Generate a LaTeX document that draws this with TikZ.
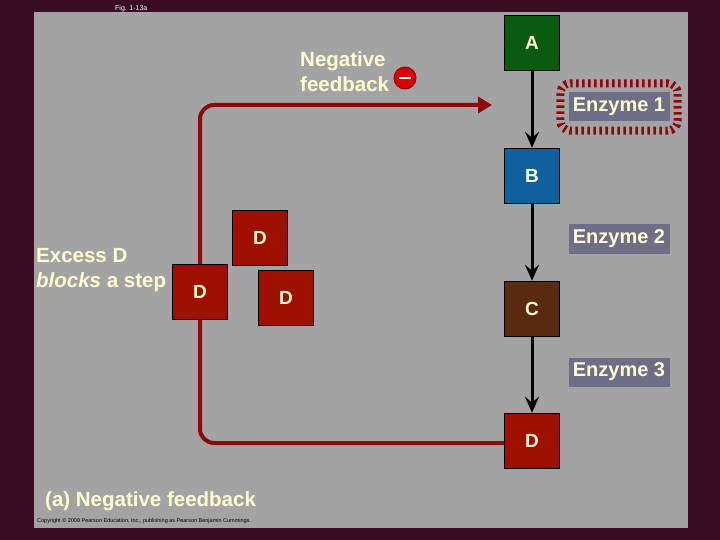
\documentclass[tikz,border=0pt]{standalone}
\usepackage{fontspec}
\setmainfont{Liberation Sans}
\usetikzlibrary{arrows.meta}
\definecolor{bgp}{HTML}{3A0D22}
\definecolor{panel}{HTML}{A3A3A3}
\definecolor{cream}{HTML}{FFFBD0}
\definecolor{fb}{HTML}{8B0A0A}
\definecolor{enz}{HTML}{6E6E86}
\definecolor{cA}{HTML}{0A5A10}
\definecolor{cB}{HTML}{1060A0}
\definecolor{cC}{HTML}{5A2A10}
\definecolor{cD}{HTML}{A01000}
\begin{document}
\begin{tikzpicture}[x=1pt,y=-1pt,
  mol/.style={draw=black,line width=1.5pt,minimum width=55pt,minimum height=55pt,inner sep=0pt,text=cream,font=\bfseries\fontsize{19}{19}\selectfont},
  enzb/.style={fill=enz,text=cream,minimum width=101pt,minimum height=29pt,inner sep=0pt,font=\bfseries\fontsize{20}{20}\selectfont},
  lbl/.style={text=cream,font=\bfseries\fontsize{20.5}{25}\selectfont,inner sep=0pt},
  arr/.style={-{Stealth[length=16pt,width=14pt,inset=6pt]},line width=3pt}]
\useasboundingbox (0,0) rectangle (720,540);
\fill[bgp] (0,0) rectangle (720,540);
\fill[panel] (34,12) rectangle (688,528);
\node[anchor=west,text=white,font=\fontsize{7}{7}\selectfont,inner sep=0pt] (fig) at (115,9) {Fig. 1-13a};
\node[mol,fill=cA] (A) at (532,43) {A};
\node[mol,fill=cB] (B) at (532,176) {B};
\node[mol,fill=cC] (C) at (532,309) {C};
\node[mol,fill=cD] (D) at (532,441) {D};
\node[mol,fill=cD] (D1) at (260,238) {D};
\node[mol,fill=cD] (D3) at (286,298) {D};
\node[enzb] (E1) at (619,107) {Enzyme 1};
\draw[fb,line width=8pt,dash pattern=on 2.5pt off 3.5pt,rounded corners=10pt] ([xshift=-8pt,yshift=9pt]E1.north west) rectangle ([xshift=8pt,yshift=-9pt]E1.south east);
\node[enzb] (E2) at (619,239) {Enzyme 2};
\node[enzb] (E3) at (619,372) {Enzyme 3};
\draw[arr] (A) -- (B);
\draw[arr] (B) -- (C);
\draw[arr] (C) -- (D);
\coordinate (fe) at (492,105);
\draw[fb,line width=4pt,rounded corners=14pt,-{Triangle[length=14pt,width=16pt]}] (D.west |- 0,443) -- (200,443) -- (200,105) -- (fe);
\node[mol,fill=cD] (D2) at (200,292) {D};
\node[lbl,anchor=west,align=left] (nf) at (300,72) {Negative\\feedback};
\node[circle,fill=red!85!black,draw=fb,line width=1pt,minimum size=22pt,inner sep=0pt] (m) at (405,78) {};
\draw[white,line width=2pt] ([xshift=-6pt]m.center) -- ([xshift=6pt]m.center);
\node[lbl,anchor=west,align=left] (ex) at (36,270) {Excess D\\\textit{blocks} a step};
\node[lbl,anchor=west] (cap) at (45,501) {(a) Negative feedback};
\node[anchor=west,text=black,font=\fontsize{5.5}{5.5}\selectfont,inner sep=0pt] (cp) at (37,521) {Copyright © 2008 Pearson Education, Inc., publishing as Pearson Benjamin Cummings.};
\end{tikzpicture}
\end{document}
